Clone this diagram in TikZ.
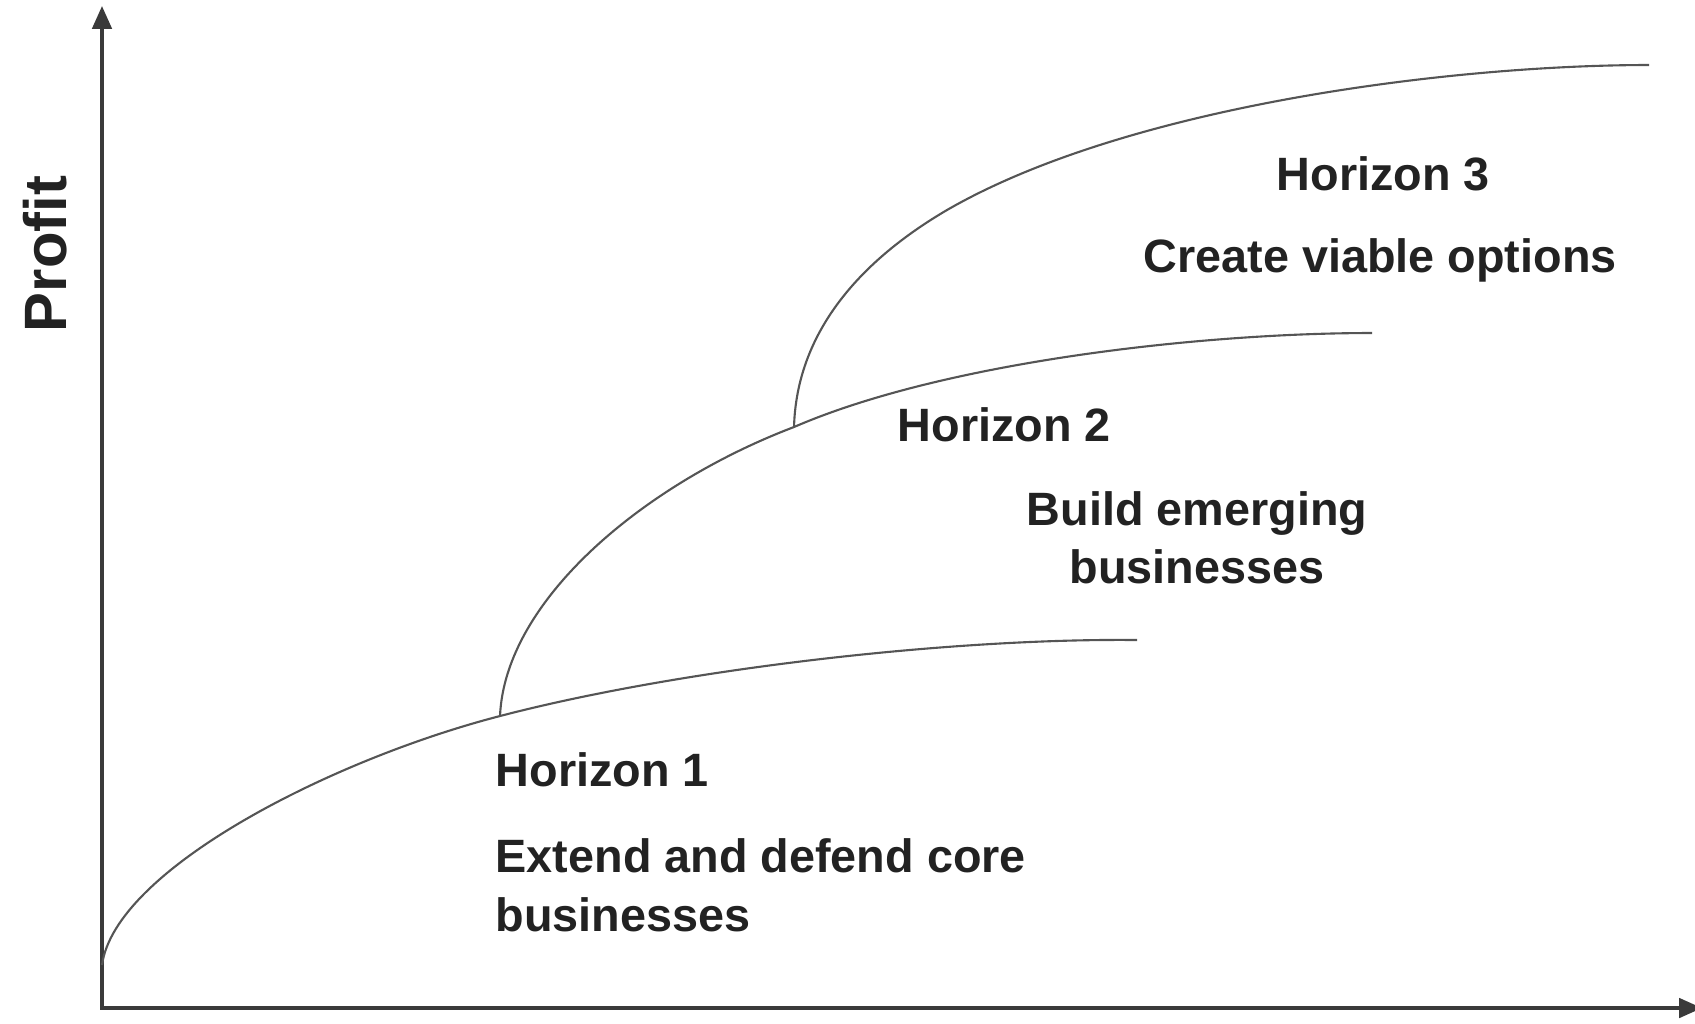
\documentclass[tikz,border=0pt]{standalone}
\usepackage{fontspec}
\setmainfont{Liberation Sans}
\usepackage{tikz}
\usetikzlibrary{arrows.meta}
\definecolor{axisgray}{HTML}{3A3A3A}
\definecolor{curvegray}{HTML}{555555}
\definecolor{textgray}{HTML}{222222}
\tikzset{axes/.style={
        draw=axisgray, 
        line width=1pt, 
        {Triangle[length=6.5pt,width=5.5pt]}-{Triangle[length=6.5pt,width=5.5pt]} } }
\tikzset{horizon/.style={
        draw=curvegray, 
        line width=0.6pt } }
\tikzset{hname/.style={
        inner sep=0pt, 
        anchor=base west, 
        text=textgray, 
        font=\bfseries\fontsize{13.3}{16.6}\selectfont } }
\tikzset{hgoal/.style={ hname, align=left } }

\begin{document}
\begin{tikzpicture}[x=0.01cm,y=-0.01cm]
\useasboundingbox (0,0) rectangle (1695,1023);

%%AXES
\coordinate (origin) at (102,1008);
\coordinate (ytip) at (102,6);
\coordinate (xtip) at (1702,1008);
\draw[axes] (ytip) -- (origin) -- (xtip);

\node[inner sep=0pt, rotate=90, text=textgray, font=\bfseries\fontsize{17}{20}\selectfont] (profit) at (45,254) {Profit};

%%CURVES
\coordinate (h1start) at (102,965);
\coordinate (h2start) at (500,716);
\coordinate (h3start) at (794,427);
\coordinate (h3bend) at (947,210);
\coordinate (h1end) at (1137,640);
\coordinate (h2end) at (1372,333);
\coordinate (h3end) at (1649,65);

\draw[horizon] (h1start) .. controls (115,870) and (330,760) .. (h2start)
                         .. controls (680,669) and (950,638) .. (h1end);
\draw[horizon] (h2start) .. controls (505,600) and (644,484) .. (h3start)
                         .. controls (944,362) and (1200,333) .. (h2end);
\draw[horizon] (h3start) .. controls (797,320) and (877,251) .. (h3bend)
                         .. controls (1127,106) and (1450,65) .. (h3end);

%%LABELS
\node[hname] (h1) at (495,786) {Horizon 1};
\node[hgoal, anchor=north west] (h1goal) at (495,838) {Extend and defend core\\businesses};

\node[hname] (h2) at (897,441) {Horizon 2};
\node[hgoal, align=center, anchor=north] (h2goal) at (1197,491) {Build emerging\\businesses};

\node[hname] (h3) at (1276,190) {Horizon 3};
\node[hname] (h3goal) at (1143,272) {Create viable options};

\end{tikzpicture}
\end{document}
